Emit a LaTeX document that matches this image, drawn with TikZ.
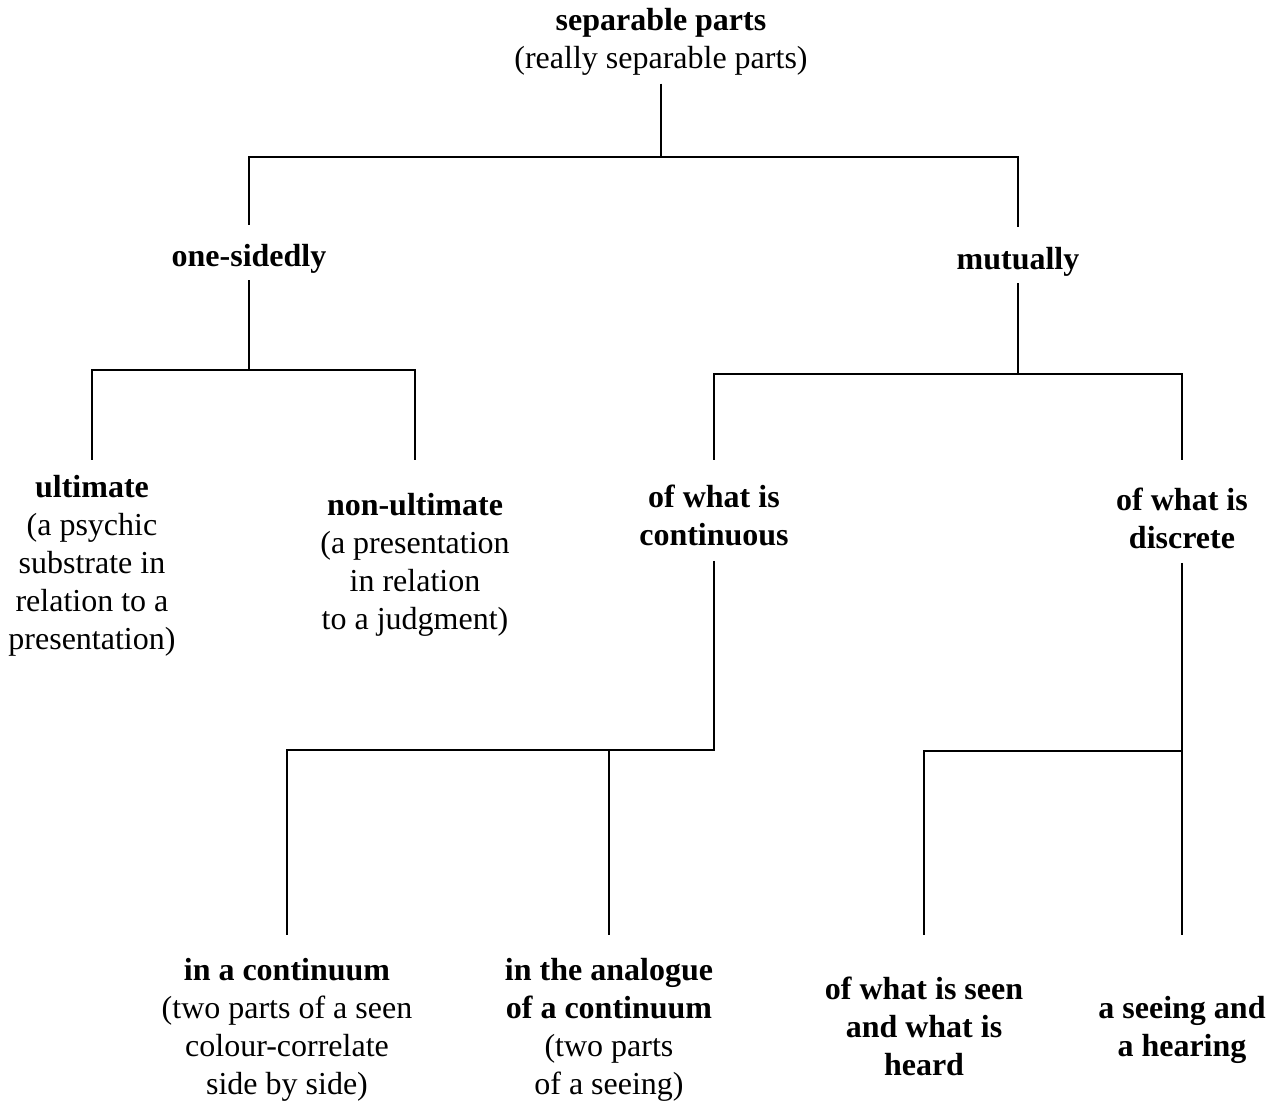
\documentclass[tikz,border=0pt]{standalone}
\usepackage{fontspec}
\setmainfont{Liberation Serif}
\begin{document}
\begin{tikzpicture}[x=1pt,y=-1pt,
  lbl/.style={anchor=north, align=center, inner sep=0pt, outer sep=0pt,
    font=\fontsize{32}{38}\selectfont,
    execute at begin node=\strut, execute at end node=\strut},
  conn/.style={draw=black, line width=1.3pt}]
\useasboundingbox[fill=white] (0,0) rectangle (1282,1103);

\node[lbl] (root) at (661,8.4) {\textbf{separable parts}\\(really separable parts)};
\node[lbl] (onesided) at (249,239.4) {\textbf{one-sidedly}};
\node[lbl] (mutually) at (1018,242.4) {\textbf{mutually}};
\node[lbl] (ult) at (92,475.4) {\textbf{ultimate}\\(a psychic\\substrate in\\relation to a\\presentation)};
\node[lbl] (nonult) at (415,493.4) {\textbf{non-ultimate}\\(a presentation\\in relation\\to a judgment)};
\node[lbl] (cont) at (714,485.4) {\textbf{of what is}\\\textbf{continuous}};
\node[lbl] (disc) at (1182,488.4) {\textbf{of what is}\\\textbf{discrete}};
\node[lbl] (inacont) at (287,958.4) {\textbf{in a continuum}\\(two parts of a seen\\colour-correlate\\side by side)};
\node[lbl] (analogue) at (609,958.4) {\textbf{in the analogue}\\\textbf{of a continuum}\\(two parts\\of a seeing)};
\node[lbl] (seen) at (924,977.4) {\textbf{of what is seen}\\\textbf{and what is}\\\textbf{heard}};
\node[lbl] (seeing) at (1182,996.4) {\textbf{a seeing and}\\\textbf{a hearing}};

\coordinate (j1) at (661,157);
\coordinate (j2) at (249,370);
\coordinate (j3) at (1018,374);
\coordinate (j4) at (714,750);
\coordinate (j5) at (1182,751);
\coordinate (l2) at (0,460);
\coordinate (l3) at (0,935);

\draw[conn, shorten <=3.6pt, shorten >=14.4pt] (root.south) -- (j1) -| (onesided.north);
\draw[conn, shorten >=15.4pt] (j1) -| (mutually.north);
\draw[conn, shorten <=2.6pt] (onesided.south) -- (j2) -| (ult.north |- l2);
\draw[conn] (j2) -| (nonult.north |- l2);
\draw[conn, shorten <=2.6pt] (mutually.south) -- (j3) -| (cont.north |- l2);
\draw[conn] (j3) -| (disc.north |- l2);
\draw[conn, shorten <=3.6pt] (cont.south) -- (j4) -| (inacont.north |- l3);
\draw[conn] (j4) -| (analogue.north |- l3);
\draw[conn, shorten <=2.6pt] (disc.south) -- (seeing.north |- l3);
\draw[conn] (j5) -| (seen.north |- l3);
\end{tikzpicture}
\end{document}
